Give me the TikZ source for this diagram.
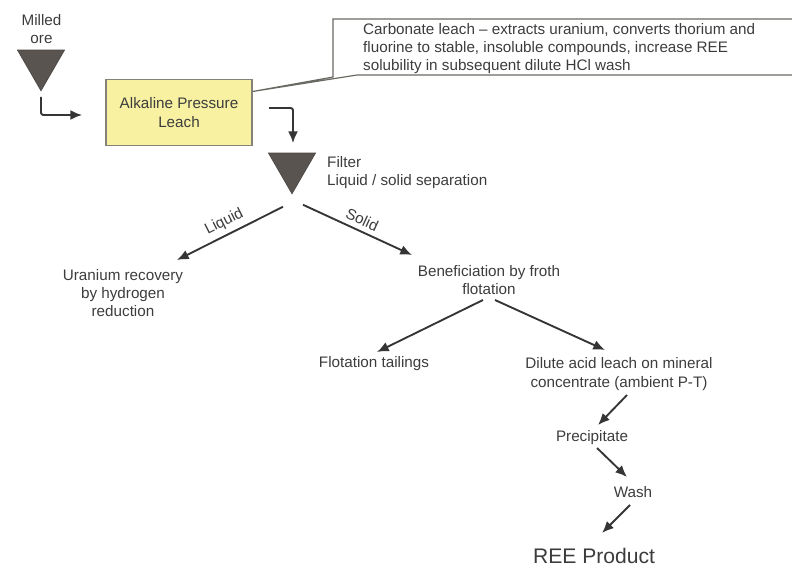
\documentclass[tikz,border=0pt]{standalone}
\usepackage{fontspec}
\setmainfont{Liberation Sans}
\usepackage{tikz}
\usetikzlibrary{shapes.geometric,arrows.meta,positioning,calc}

\definecolor{hoppergray}{HTML}{5A5451}
\definecolor{linegray}{HTML}{353535}
\definecolor{inkgray}{HTML}{3C3C3C}
\definecolor{leachyellow}{HTML}{F8F1A2}
\definecolor{boxedge}{HTML}{85827A}

\tikzset{
    hopper/.style={regular polygon, regular polygon sides=3, shape border rotate=180,
        fill=hoppergray, draw=hoppergray!85!black, line width=0.6pt,
        minimum size=1.63cm, inner sep=0pt, outer sep=0pt},
    leachbox/.style={draw=boxedge, fill=leachyellow, line width=1.1pt,
        minimum width=4.38cm, minimum height=2.0cm, align=center,
        text=inkgray, font=\fontsize{13}{15.5}\selectfont},
    txt/.style={text=inkgray, font=\fontsize{13}{15.5}\selectfont, align=center, inner sep=0pt},
    flow/.style={draw=linegray, line width=1.6pt, -{Latex[length=10pt,width=8.5pt]}},
    callout/.style={draw=boxedge!80!black, line width=1pt},
}

\begin{document}
\begin{tikzpicture}[x=0.03cm, y=-0.03cm]
    \useasboundingbox (0,0) rectangle (792,567);

    % Milled ore
    \node[txt] (milled) at (41.5,29) {Milled\\ore};
    \node[hopper] (ore) at (41,63.6) {};

    % Alkaline pressure leach
    \node[leachbox] (leach) at (179,112.5) {Alkaline Pressure\\Leach};
    \coordinate (oreIn) at (82,115);
    \draw[flow, rounded corners=2pt] ([shift={(0,6)}]ore.corner 1) |- (oreIn);

    % Callout
    \node[txt, align=left, anchor=west] (note) at (363,48.5)
        {Carbonate leach -- extracts uranium, converts thorium and\\
         fluorine to stable, insoluble compounds, increase REE\\
         solubility in subsequent dilute HCl wash};
    \draw[callout] ([shift={(0,-21)}]leach.east) -- (333,77) -- (333,19) -- (800,19)
        -- (800,75) -- (357,75) -- cycle;

    % Filter
    \node[hopper] (filter) at (292,166.6) {};
    \node[txt, align=left, anchor=west] (filtertxt) at (327,172.5)
        {Filter\\Liquid / solid separation};
    \coordinate (leachOut) at (269,108);
    \coordinate (filterIn) at (293,143);
    \draw[flow, rounded corners=2pt] (leachOut) -| (filterIn);

    % Liquid / Solid
    \node[txt] (uranium) at (123,293) {Uranium recovery\\by hydrogen\\reduction};
    \node[txt] (benef) at (489,280) {Beneficiation by froth\\flotation};
    \draw[flow] ([shift={(-9,13)}]filter.corner 1) -- ([shift={(54,-33)}]uranium.center)
        node[txt, midway, above=4pt, sloped] (liquidlbl) {Liquid};
    \draw[flow] ([shift={(11,11)}]filter.corner 1) -- ([shift={(-77,-25)}]benef.center)
        node[txt, midway, above=4pt, sloped] (solidlbl) {Solid};

    % Flotation
    \node[txt] (tails) at (374,364) {Flotation tailings};
    \node[txt] (dilute) at (619,374) {Dilute acid leach on mineral\\concentrate (ambient P-T)};
    \draw[flow] ([shift={(-6,20)}]benef.center) -- ([shift={(3,-12)}]tails.center);
    \draw[flow] ([shift={(6,20)}]benef.center) -- ([shift={(-14,-24)}]dilute.center);

    % Precipitate, wash, product
    \node[txt] (precip) at (592,438) {Precipitate};
    \node[txt] (wash) at (633,492) {Wash};
    \node[txt, font=\fontsize{18}{20}\selectfont] (ree) at (594,556) {REE Product};
    \draw[flow] ([shift={(8,21)}]dilute.center) -- ([shift={(6,-13)}]precip.center);
    \draw[flow] ([shift={(5,10)}]precip.center) -- ([shift={(-6,-15)}]wash.center);
    \draw[flow] ([shift={(-3,13)}]wash.center) -- ([shift={(8,-23)}]ree.center);
\end{tikzpicture}
\end{document}
